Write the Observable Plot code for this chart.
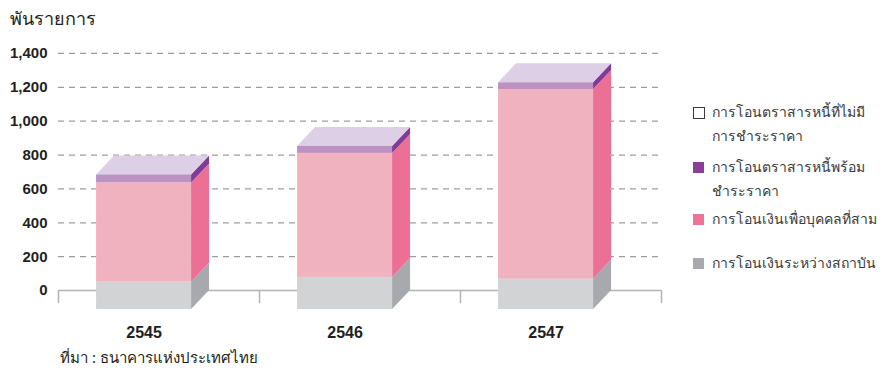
<!DOCTYPE html>
<html>
<head>
<meta charset="utf-8">
<script src="https://cdn.jsdelivr.net/npm/d3@7"></script>
<script src="https://cdn.jsdelivr.net/npm/@observablehq/plot@0.6"></script>
<style>
  html, body { margin: 0; padding: 0; background: #fff; }
  #wrap { position: relative; width: 883px; height: 371px; overflow: hidden; font-family: "Noto Sans", "Liberation Sans", sans-serif; color: #231f20; }
  #title { height: 30px; line-height: 36px; padding-left: 10px; font-size: 18px; }
  #caption { position: absolute; left: 60px; top: 346px; font-size: 15px; line-height: 22px; }
  #legend { position: absolute; left: 693px; top: 96px; width: 188px; font-size: 14px; color: #3a3a3c; }
  .item { position: absolute; left: 0; }
  .box { position: absolute; left: 0; width: 11px; height: 11px; }
  .txt { position: absolute; left: 19px; white-space: nowrap; line-height: 24px; }
</style>
</head>
<body>
<div id="wrap">
  <div id="title">พันรายการ</div>
  <div id="chart"></div>
  <div id="legend"></div>
  <div id="caption">ที่มา : ธนาคารแห่งประเทศไทย</div>
</div>
<script>
// ---- data (thousand transactions) ----
const years = ["2545", "2546", "2547"];
const interbank = [162, 190, 179];          // การโอนเงินระหว่างสถาบัน
const thirdParty = [586, 732, 1120];        // การโอนเงินเพื่อบุคคลที่สาม
const debtWithPayment = [47, 41, 40];       // การโอนตราสารหนี้พร้อมชำระราคา
const debtNoPayment = [0, 0, 0];            // การโอนตราสารหนี้ที่ไม่มีการชำระราคา
const yTicks = [0, 200, 400, 600, 800, 1000, 1200, 1400];

const seriesNames = [
  "การโอนตราสารหนี้ที่ไม่มีการชำระราคา",
  "การโอนตราสารหนี้พร้อมชำระราคา",
  "การโอนเงินเพื่อบุคคลที่สาม",
  "การโอนเงินระหว่างสถาบัน"
];
const legendLines = [
  ["การโอนตราสารหนี้ที่ไม่มี", "การชำระราคา"],
  ["การโอนตราสารหนี้พร้อม", "ชำระราคา"],
  ["การโอนเงินเพื่อบุคคลที่สาม"],
  ["การโอนเงินระหว่างสถาบัน"]
];
// front / side colours per series (bottom to top stacking order)
const stackOrder = [
  {values: interbank, front: "#d1d3d4", side: "#a7a9ac", legend: "#a7a9ac"},
  {values: thirdParty, front: "#f1b2c0", side: "#ec7096", legend: "#ee7396"},
  {values: debtWithPayment, front: "#bd91c2", side: "#7f3b96", legend: "#8b3d97"},
  {values: debtNoPayment, front: "#ffffff", side: "#eeeeee", legend: "#ffffff"}
];
const topColor = "#ddcfe5";

// ---- layout of the pseudo-3D bars (in scale units) ----
const barLeft = 0.279, barWidth = 0.4726;
const depthX = 0.0896, depthY = 112.2;

const fronts = [], sides = [], tops = [];
years.forEach((yr, i) => {
  const bl = i + barLeft, br = bl + barWidth;
  let base = 0;
  stackOrder.forEach((s, k) => {
    const v = s.values[i];
    if (v > 0) {
      const y0 = base, y1 = base + v;
      fronts.push({x1: bl - depthX, x2: br - depthX, y1: y0 - depthY, y2: y1 - depthY, fill: s.front});
      const id = yr + "-" + k;
      sides.push({id, x: br - depthX, y1: y0 - depthY, y2: y1 - depthY, fill: s.side});
      sides.push({id, x: br, y1: y0, y2: y1, fill: s.side});
    }
    base += v;
  });
  tops.push({id: yr, y: base - depthY, x1: bl - depthX, x2: br - depthX});
  tops.push({id: yr, y: base, x1: bl, x2: br});
});
const labels = years.map((yr, i) => ({x: i + barLeft - depthX + barWidth / 2, label: yr}));

const chart = Plot.plot({
  width: 883,
  height: 311,
  marginLeft: 58,
  marginRight: 222,
  marginTop: 6,
  marginBottom: 25.5,
  style: {fontFamily: "'Liberation Sans', Arial, sans-serif", background: "transparent", overflow: "visible"},
  x: {domain: [0, 3], range: [58, 661], axis: null},
  y: {domain: [-150, 1500], range: [285.5, 6], axis: null},
  marks: [
    Plot.gridY(yTicks.filter(d => d > 0), {stroke: "#9d9d9d", strokeOpacity: 1, strokeWidth: 1.3, strokeDasharray: "6,5"}),
    Plot.ruleY([0], {stroke: "#b3b3b3", strokeWidth: 1.5}),
    Plot.ruleX([0, 1, 2, 3], {y1: 0, y2: -77, stroke: "#b3b3b3", strokeWidth: 1.5}),
    Plot.axisY(yTicks, {anchor: "left", tickSize: 0, tickPadding: 11, tickFormat: d3.format(","), fontSize: 15, fontWeight: "bold", fill: "#231f20", label: null}),
    Plot.areaY(sides, {x: "x", y1: "y1", y2: "y2", z: "id", fill: "fill", curve: "linear"}),
    Plot.areaX(tops, {y: "y", x1: "x1", x2: "x2", z: "id", fill: topColor, curve: "linear"}),
    Plot.rect(fronts, {x1: "x1", x2: "x2", y1: "y1", y2: "y2", fill: "fill"}),
    Plot.text(labels, {x: "x", y: -150, text: "label", lineAnchor: "top", dy: 11, fontSize: 16, fontWeight: "bold", fill: "#231f20"})
  ]
});
document.getElementById("chart").appendChild(chart);

// ---- legend ----
const legendTops = [4, 59, 111, 155];
const legend = document.getElementById("legend");
legendLines.forEach((lines, k) => {
  const s = stackOrder[3 - k];
  const item = document.createElement("div");
  item.className = "item";
  item.style.top = legendTops[k] + "px";
  const box = document.createElement("div");
  box.className = "box";
  box.style.top = "7px";
  box.style.background = s.legend;
  if (k === 0) { box.style.border = "1px solid #3a3a3c"; box.style.width = "10px"; box.style.height = "10px"; }
  const txt = document.createElement("div");
  txt.className = "txt";
  txt.style.top = "0px";
  txt.innerHTML = lines.join("<br>");
  txt.title = seriesNames[k];
  item.appendChild(box);
  item.appendChild(txt);
  legend.appendChild(item);
});
</script>
</body>
</html>
